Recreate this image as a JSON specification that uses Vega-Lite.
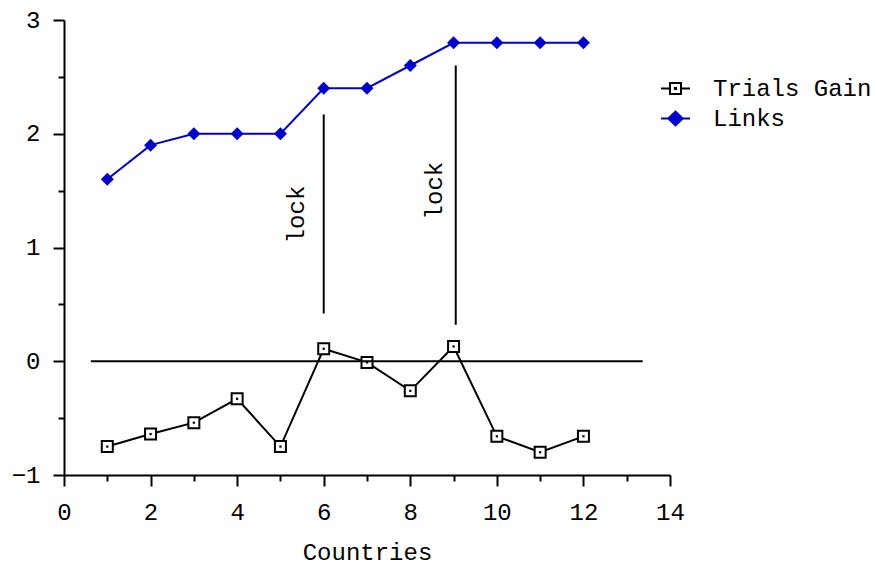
{
  "$schema": "https://vega.github.io/schema/vega-lite/v6.json",
  "width": 606,
  "height": 455,
  "autosize": "none",
  "padding": {"left": 64, "top": 20, "right": 204, "bottom": 92},
  "background": "white",
  "config": {
    "font": "Liberation Mono",
    "view": {"stroke": null},
    "axis": {
      "domainColor": "black",
      "domainWidth": 2,
      "tickColor": "black",
      "tickWidth": 2,
      "labelColor": "black",
      "labelFont": "Liberation Mono",
      "labelFontSize": 24,
      "labelFlush": false,
      "labelOverlap": false,
      "grid": false,
      "titleColor": "black",
      "titleFont": "Liberation Mono",
      "titleFontSize": 24,
      "titleFontWeight": "normal"
    },
    "legend": {
      "labelFont": "Liberation Mono",
      "labelFontSize": 24,
      "labelColor": "black"
    }
  },
  "datasets": {
    "series": [
      {"country": 1, "value": -0.75, "series": "Trials Gain"},
      {"country": 2, "value": -0.64, "series": "Trials Gain"},
      {"country": 3, "value": -0.54, "series": "Trials Gain"},
      {"country": 4, "value": -0.33, "series": "Trials Gain"},
      {"country": 5, "value": -0.75, "series": "Trials Gain"},
      {"country": 6, "value": 0.11, "series": "Trials Gain"},
      {"country": 7, "value": -0.01, "series": "Trials Gain"},
      {"country": 8, "value": -0.26, "series": "Trials Gain"},
      {"country": 9, "value": 0.13, "series": "Trials Gain"},
      {"country": 10, "value": -0.66, "series": "Trials Gain"},
      {"country": 11, "value": -0.8, "series": "Trials Gain"},
      {"country": 12, "value": -0.66, "series": "Trials Gain"},
      {"country": 1, "value": 1.6, "series": "Links"},
      {"country": 2, "value": 1.9, "series": "Links"},
      {"country": 3, "value": 2.0, "series": "Links"},
      {"country": 4, "value": 2.0, "series": "Links"},
      {"country": 5, "value": 2.0, "series": "Links"},
      {"country": 6, "value": 2.4, "series": "Links"},
      {"country": 7, "value": 2.4, "series": "Links"},
      {"country": 8, "value": 2.6, "series": "Links"},
      {"country": 9, "value": 2.8, "series": "Links"},
      {"country": 10, "value": 2.8, "series": "Links"},
      {"country": 11, "value": 2.8, "series": "Links"},
      {"country": 12, "value": 2.8, "series": "Links"}
    ],
    "zero": [{"x1": 0.62, "x2": 13.37, "y": 0}],
    "locks": [
      {"x": 6, "y1": 0.42, "y2": 2.17, "tx": 5.38, "ty": 1.29, "label": "lock"},
      {"x": 9.05, "y1": 0.32, "y2": 2.6, "tx": 8.57, "ty": 1.5, "label": "lock"}
    ]
  },
  "resolve": {"axis": {"x": "independent", "y": "independent"}},
  "layer": [
    {
      "data": {"name": "locks"},
      "mark": {"type": "rule", "color": "black", "strokeWidth": 2},
      "encoding": {
        "x": {"field": "x", "type": "quantitative", "scale": {"domain": [0, 14], "nice": false, "zero": false},
              "axis": {"orient": "bottom", "values": [1, 3, 5, 7, 9, 11, 13], "labels": false, "domain": false, "tickSize": 6, "title": null}},
        "y": {"field": "y1", "type": "quantitative", "scale": {"domain": [-1, 3], "nice": false, "zero": false},
              "axis": {"orient": "left", "values": [-0.5, 0.5, 1.5, 2.5], "labels": false, "domain": false, "tickSize": 6, "title": null}},
        "y2": {"field": "y2"}
      }
    },
    {
      "data": {"name": "locks"},
      "mark": {"type": "text", "angle": 270, "align": "center", "baseline": "middle", "font": "Liberation Mono", "fontSize": 24, "color": "black"},
      "encoding": {
        "x": {"field": "tx", "type": "quantitative", "axis": null},
        "y": {"field": "ty", "type": "quantitative", "axis": null},
        "text": {"field": "label"}
      }
    },
    {
      "data": {"name": "series"},
      "mark": {"type": "line", "strokeWidth": 2},
      "encoding": {
        "x": {"field": "country", "type": "quantitative",
              "axis": {"orient": "bottom", "values": [0, 2, 4, 6, 8, 10, 12, 14], "tickSize": 11, "labelPadding": 14, "title": "Countries", "titlePadding": 16}},
        "y": {"field": "value", "type": "quantitative",
              "axis": {"orient": "left", "values": [-1, 0, 1, 2, 3], "tickSize": 11, "labelPadding": 13, "title": null}},
        "color": {
          "field": "series", "type": "nominal",
          "scale": {"domain": ["Trials Gain", "Links"], "range": ["#000000", "#0000cc"]},
          "legend": {
            "title": null,
            "orient": "none",
            "legendX": 596,
            "legendY": 53,
            "padding": 0,
            "symbolSize": 841,
            "symbolStrokeWidth": 2,
            "labelOffset": 22,
            "rowPadding": 2,
            "encode": {
              "symbols": {
                "update": {
                  "shape": {"signal": "datum.value === 'Trials Gain' ? 'M-1,0H-0.38M0.38,0H1M-0.38,-0.38H0.38V0.38H-0.38ZM-0.04,-0.04H0.04V0.04H-0.04Z' : 'M-1,0H1M-0.5,0L0,-0.47L0.5,0L0,0.47Z'"},
                  "fill": {"signal": "datum.value === 'Trials Gain' ? 'white' : '#0000cc'"},
                  "stroke": {"signal": "datum.value === 'Trials Gain' ? 'black' : '#0000cc'"},
                  "strokeWidth": {"value": 2},
                  "opacity": {"value": 1},
                  "fillOpacity": {"value": 1}
                }
              }
            }
          }
        }
      }
    },
    {
      "data": {"name": "series"},
      "transform": [{"filter": "datum.series === 'Trials Gain'"}],
      "mark": {"type": "point", "shape": "square", "size": 121, "filled": false, "fill": "white", "fillOpacity": 1, "stroke": "black", "strokeWidth": 2, "opacity": 1},
      "encoding": {
        "x": {"field": "country", "type": "quantitative", "axis": null},
        "y": {"field": "value", "type": "quantitative", "axis": null}
      }
    },
    {
      "data": {"name": "series"},
      "transform": [{"filter": "datum.series === 'Trials Gain'"}],
      "mark": {"type": "point", "shape": "square", "size": 5, "filled": true, "color": "black", "opacity": 1},
      "encoding": {
        "x": {"field": "country", "type": "quantitative", "axis": null},
        "y": {"field": "value", "type": "quantitative", "axis": null}
      }
    },
    {
      "data": {"name": "series"},
      "transform": [{"filter": "datum.series === 'Links'"}],
      "mark": {"type": "point", "shape": "diamond", "size": 169, "filled": true, "color": "#0000cc", "opacity": 1},
      "encoding": {
        "x": {"field": "country", "type": "quantitative", "axis": null},
        "y": {"field": "value", "type": "quantitative", "axis": null}
      }
    },
    {
      "data": {"name": "zero"},
      "mark": {"type": "rule", "color": "black", "strokeWidth": 2},
      "encoding": {
        "x": {"field": "x1", "type": "quantitative", "axis": null},
        "x2": {"field": "x2"},
        "y": {"field": "y", "type": "quantitative", "axis": null}
      }
    }
  ]
}
